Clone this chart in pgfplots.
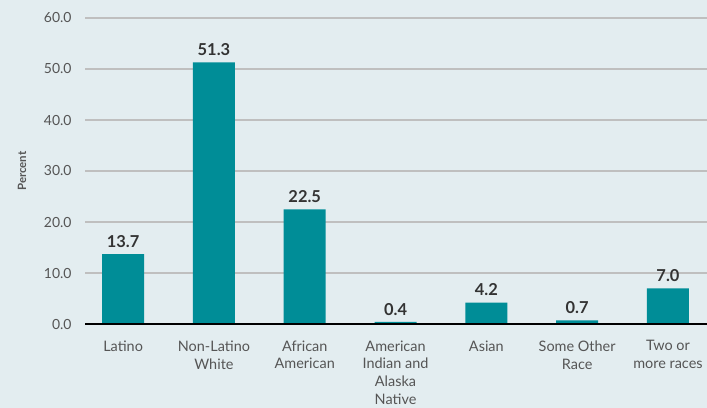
\documentclass[border=0pt]{standalone}
\usepackage{pgfplots}
\pgfplotsset{compat=1.18}
\usepackage{fontspec}
\setmainfont{Lato}
\definecolor{bg}{HTML}{E3EDF0}
\definecolor{bar}{HTML}{008D97}
\definecolor{grid}{HTML}{D3D8DA}
\definecolor{txt}{HTML}{555555}
\definecolor{val}{HTML}{333333}
\begin{document}
\begin{tikzpicture}
\path[use as bounding box, fill=bg] (0,0) rectangle (707bp,408bp);
\begin{axis}[
  at={(85bp,84bp)}, anchor=south west,
  scale only axis, width=622bp, height=306bp,
  ymin=0, ymax=60, ytick={0,10,...,60},
  xmin=-0.42, xmax=6.43,
  xtick=data,
  xticklabels={Latino,Non-Latino\\White,African\\American,American\\Indian and\\Alaska\\Native,Asian,Some Other\\Race,Two or\\more races},
  x tick label style={align=center, font=\fontsize{14.5}{18}\selectfont, text=txt, yshift=-13bp},
  y tick label style={font=\fontsize{14}{16}\selectfont, text=txt, xshift=-10bp},
  yticklabel={\pgfmathprintnumber[fixed,fixed zerofill,precision=1]{\tick}},
  /pgf/number format/assume math mode=true,
  major tick length=0pt,
  ymajorgrids, xmajorgrids=false, grid style={grid, line width=1.5bp},
  axis line style={draw=none},
  ybar, bar width=42bp,
  bar shift=0pt,
  nodes near coords={\pgfmathprintnumber[fixed,fixed zerofill,precision=1]{\pgfplotspointmeta}},
  nodes near coords style={font=\fontsize{16.5}{18}\selectfont\bfseries, text=val, yshift=3bp},
  clip=false,
]
\addplot[fill=bar, draw=none] coordinates {(0,13.7) (1,51.3) (2,22.5) (3,0.4) (4,4.2) (5,0.7) (6,7.0)};
\draw[black, line width=1.6bp] (axis cs:-0.42,0) -- (axis cs:6.43,0);
\node[rotate=90, text=txt, font=\fontsize{11.5}{13}\selectfont\bfseries] at ([xshift=-63bp]rel axis cs:0,0.5) {Percent};
\end{axis}
\end{tikzpicture}
\end{document}
